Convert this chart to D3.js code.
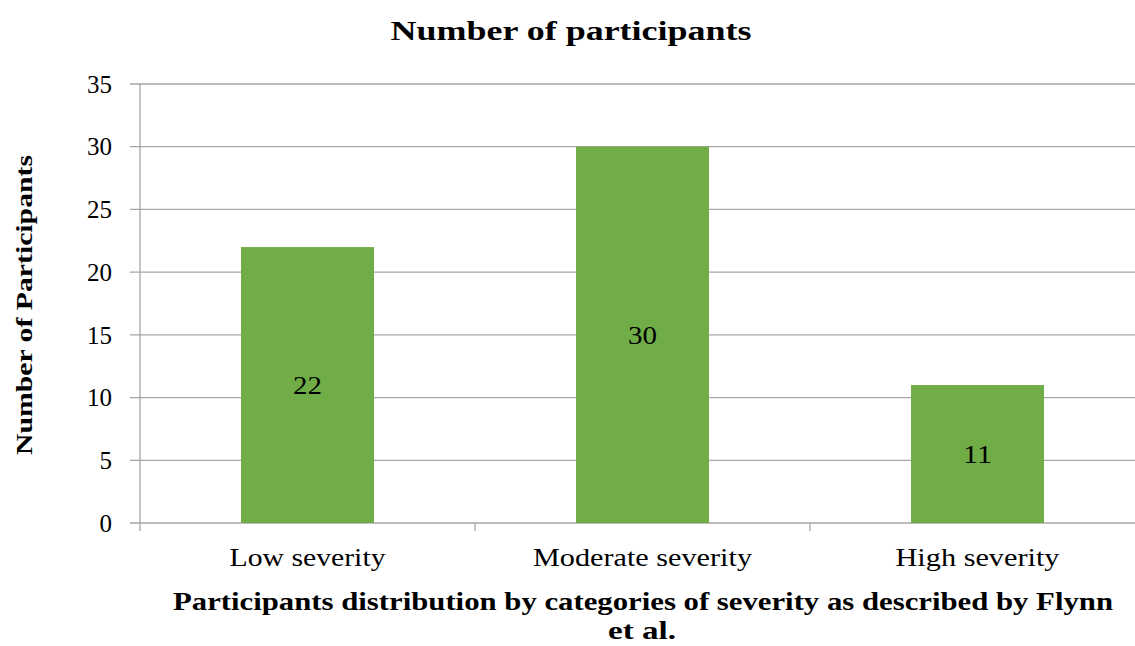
<!DOCTYPE html>
<html lang="en">
<head>
<meta charset="utf-8">
<title>Number of participants</title>
<script src="https://cdn.jsdelivr.net/npm/d3@7"></script>
<style>
  body { margin: 0; background: #fff; }
  svg text { font-family: "Liberation Serif", "Times New Roman", Times, serif; fill: #000; }
</style>
</head>
<body>
<script>
// data
var categories = ["Low severity", "Moderate severity", "High severity"];
var participants = [22, 30, 11];
var yTicks = [0, 5, 10, 15, 20, 25, 30, 35];

var w = 1135, h = 646;
var mLeft = 140, mRight = 1145, mTop = 84, mBottom = 523;

var svg = d3.select("body").append("svg")
  .attr("width", w)
  .attr("height", h);

var x = d3.scaleBand()
  .domain(categories)
  .range([mLeft, mRight])
  .paddingInner(0)
  .paddingOuter(0);

var y = d3.scaleLinear()
  .domain([0, 35])
  .range([mBottom, mTop]);

// gridlines
svg.append("g")
  .selectAll("line")
  .data(yTicks)
  .enter()
  .append("line")
  .attr("x1", mLeft - 10)
  .attr("x2", mRight)
  .attr("y1", d => y(d))
  .attr("y2", d => y(d))
  .attr("stroke", "#a6a6a6")
  .attr("stroke-width", 1.3);

// y tick labels
svg.append("g")
  .selectAll("text")
  .data(yTicks)
  .enter()
  .append("text")
  .attr("x", mLeft - 28)
  .attr("y", d => y(d))
  .attr("dy", "0.35em")
  .attr("text-anchor", "end")
  .style("font-size", "25px")
  .text(d => d);

// y axis line
svg.append("line")
  .attr("x1", mLeft).attr("x2", mLeft)
  .attr("y1", mTop).attr("y2", mBottom + 8)
  .attr("stroke", "#a6a6a6")
  .attr("stroke-width", 1.3);

// category separator ticks
var seps = categories.map(c => x(c)).slice(1);
svg.append("g")
  .selectAll("line")
  .data(seps)
  .enter()
  .append("line")
  .attr("x1", d => d).attr("x2", d => d)
  .attr("y1", mBottom).attr("y2", mBottom + 8)
  .attr("stroke", "#a6a6a6")
  .attr("stroke-width", 1.3);

// bars
var barW = x.bandwidth() * 0.397;
svg.append("g")
  .selectAll("rect")
  .data(participants)
  .enter()
  .append("rect")
  .attr("x", (d, i) => x(categories[i]) + x.bandwidth() / 2 - barW / 2)
  .attr("y", d => y(d))
  .attr("width", barW)
  .attr("height", d => y(0) - y(d))
  .attr("fill", "#70ad47");

// data labels
svg.append("g")
  .selectAll("text")
  .data(participants)
  .enter()
  .append("text")
  .attr("x", (d, i) => x(categories[i]) + x.bandwidth() / 2)
  .attr("y", d => (y(d) + y(0)) / 2)
  .attr("dy", "0.35em")
  .attr("text-anchor", "middle")
  .style("font-size", "25px")
  .attr("textLength", 29)
  .attr("lengthAdjust", "spacingAndGlyphs")
  .text(d => d);

// x category labels (widths as measured in the picture)
var catWidths = [156, 219, 164];
svg.append("g")
  .selectAll("text")
  .data(categories)
  .enter()
  .append("text")
  .attr("x", d => x(d) + x.bandwidth() / 2)
  .attr("y", 566)
  .attr("text-anchor", "middle")
  .style("font-size", "25px")
  .attr("textLength", (d, i) => catWidths[i])
  .attr("lengthAdjust", "spacingAndGlyphs")
  .text(d => d);

// title
svg.append("text")
  .attr("x", 571)
  .attr("y", 40)
  .attr("text-anchor", "middle")
  .style("font-size", "27px")
  .style("font-weight", "bold")
  .attr("textLength", 361)
  .attr("lengthAdjust", "spacingAndGlyphs")
  .text("Number of participants");

// y title
svg.append("text")
  .attr("transform", "translate(32,305) rotate(-90)")
  .attr("text-anchor", "middle")
  .style("font-size", "24px")
  .style("font-weight", "bold")
  .attr("textLength", 300)
  .attr("lengthAdjust", "spacingAndGlyphs")
  .text("Number of Participants");

// x title
svg.append("text")
  .attr("x", 643)
  .attr("y", 610)
  .attr("text-anchor", "middle")
  .style("font-size", "25px")
  .style("font-weight", "bold")
  .attr("textLength", 940)
  .attr("lengthAdjust", "spacingAndGlyphs")
  .text("Participants distribution by categories of severity as described by Flynn");
svg.append("text")
  .attr("x", 642)
  .attr("y", 639)
  .attr("text-anchor", "middle")
  .style("font-size", "25px")
  .style("font-weight", "bold")
  .attr("textLength", 68)
  .attr("lengthAdjust", "spacingAndGlyphs")
  .text("et al.");
</script>
</body>
</html>
